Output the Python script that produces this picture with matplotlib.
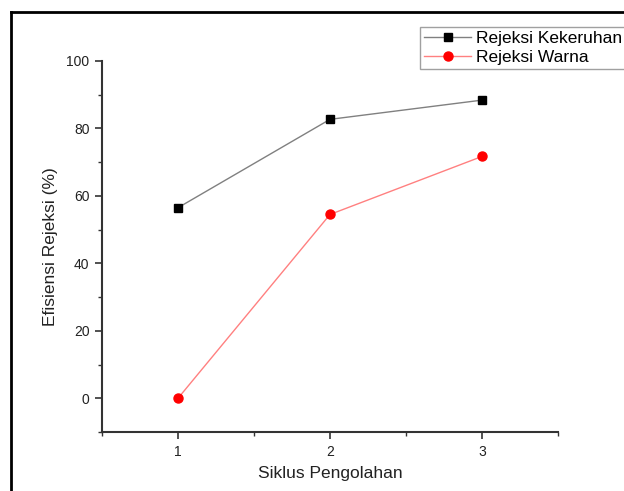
import matplotlib
matplotlib.use("Agg")
import matplotlib.pyplot as plt
from matplotlib.lines import Line2D
from matplotlib.ticker import MultipleLocator

plt.rcParams['font.family'] = ['Liberation Sans', 'DejaVu Sans']

cycles = [1, 2, 3]
kekeruhan = [56.5, 82.7, 88.4]
warna = [0.0, 54.5, 71.7]
series_labels = ["Rejeksi Kekeruhan", "Rejeksi Warna"]
xlabel = "Siklus Pengolahan"
ylabel = "Efisiensi Rejeksi (%)"

fig = plt.figure(figsize=(6.24, 4.91), dpi=100)
ax = fig.add_axes([102/624, 1-432/491, (558-102)/624, (432-61)/491])

ax.plot(cycles, kekeruhan, color='#808080', lw=1.0, marker='s', ms=5.5,
        mfc='black', mec='black', label=series_labels[0])
ax.plot(cycles, warna, color='#ff8080', lw=1.0, marker='o', ms=6.5,
        mfc='#ff0000', mec='#ff0000', label=series_labels[1])

ax.set_xlim(0.5, 3.5)
ax.set_ylim(-10, 100)
ax.xaxis.set_major_locator(MultipleLocator(1))
ax.xaxis.set_minor_locator(MultipleLocator(0.5))
ax.yaxis.set_major_locator(MultipleLocator(20))
ax.yaxis.set_minor_locator(MultipleLocator(10))
ax.set_xticks([1, 2, 3])
ax.set_yticks([0, 20, 40, 60, 80, 100])

for s in ['top', 'right']:
    ax.spines[s].set_visible(False)
for s in ['left', 'bottom']:
    ax.spines[s].set_color('#333333')
    ax.spines[s].set_linewidth(1.5)

ax.tick_params(which='major', direction='out', length=5, width=1.2, color='#333333',
               labelsize=10, labelcolor='#222222', pad=4)
ax.tick_params(which='minor', direction='out', length=3, width=1.0, color='#333333')

ax.set_xlabel(xlabel, fontsize=12.5, color='#222222', labelpad=5.5)
ax.set_ylabel(ylabel, fontsize=12.5, color='#222222', labelpad=6)

leg = fig.legend(loc='upper left', bbox_to_anchor=(420/624, 1-27/491),
                 bbox_transform=fig.transFigure, fontsize=12.5, frameon=True,
                 fancybox=False, edgecolor='#a0a0a0', framealpha=1,
                 handlelength=2.7, handletextpad=0.3, borderpad=0.25,
                 labelspacing=0.2, borderaxespad=0)
leg.get_frame().set_linewidth(1.0)

# outer figure border (left and top)
fig.add_artist(Line2D([11/624, 11/624], [0, 1-12/491], transform=fig.transFigure,
                      color='black', lw=2))
fig.add_artist(Line2D([11/624, 1], [1-12/491, 1-12/491], transform=fig.transFigure,
                      color='black', lw=2))

fig.savefig("out.png", dpi=100)
